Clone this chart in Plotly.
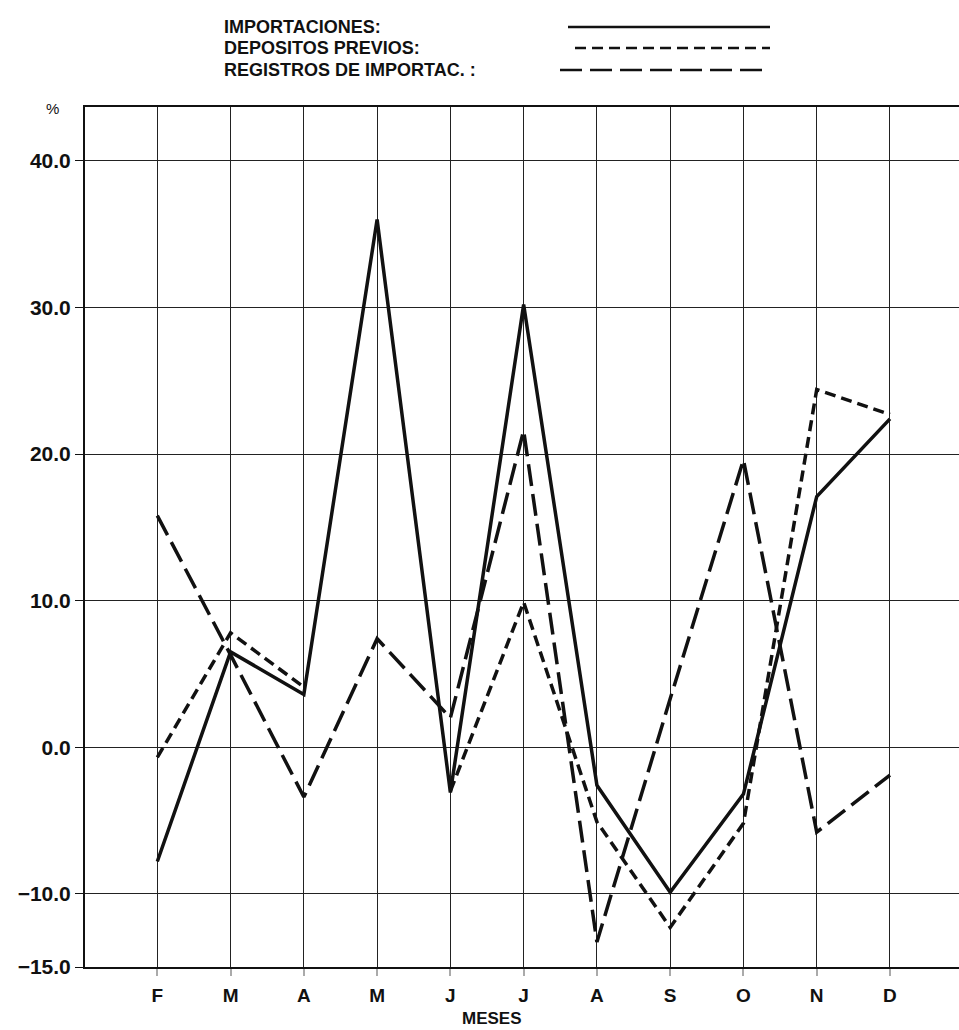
import plotly.graph_objects as go

MONTHS = ["F", "M", "A", "M", "J", "J", "A", "S", "O", "N", "D"]
IMPORTACIONES = [-7.8, 6.5, 3.6, 36.0, -3.1, 30.2, -2.6, -9.9, -3.2, 17.1, 22.4]
DEPOSITOS = [-0.7, 7.8, 4.1, None, -3.0, 9.9, -5.1, -12.3, -5.2, 24.4, 22.7]
REGISTROS = [15.8, 6.3, -3.4, 7.4, 2.0, 21.6, -13.3, 3.3, 19.6, -5.8, -1.9]
Y_TICKS = [40, 30, 20, 10, 0, -10, -15]
Y_TICKTEXT = ["40.0", "30.0", "20.0", "10.0", "0.0", "\u221210.0", "\u221215.0"]

LEGEND = [("IMPORTACIONES:", "solid"),
          ("DEPOSITOS PREVIOS:", "11px,6px"),
          ("REGISTROS DE IMPORTAC. :", "22px,8px")]

W, H = 959, 1030
L, R, T, B = 85, 0, 107, 63
PW, PH = W - L - R, H - T - B


def px(x):
    return (x - L) / PW


def py(y):
    return (H - B - y) / PH


FONT = "Liberation Sans, Arial, sans-serif"
x = list(range(len(MONTHS)))

fig = go.Figure()
for (label, dash), vals in zip(LEGEND, [IMPORTACIONES, DEPOSITOS, REGISTROS]):
    fig.add_trace(go.Scatter(x=x, y=vals, mode="lines", name=label,
                             line=dict(color="#111111", width=3.5, dash=dash),
                             connectgaps=False, showlegend=False, hoverinfo="skip"))

fig.update_layout(
    width=W, height=H,
    margin=dict(l=L, r=R, t=T, b=B),
    paper_bgcolor="white", plot_bgcolor="white",
    font=dict(family=FONT, size=16, color="#111111"),
    xaxis=dict(range=[-0.987, 10.942], tickvals=x, ticktext=MONTHS,
               showgrid=True, gridcolor="#222222", gridwidth=1,
               zeroline=False, showline=True, linecolor="#111111", linewidth=2,
               mirror=True,
               ticks="outside", ticklen=7, tickcolor="#aaaaaa", tickwidth=2,
               ticklabelstandoff=3,
               tickfont=dict(family=FONT, size=19, color="#111111", weight="bold")),
    yaxis=dict(range=[-15, 43.68], tickvals=Y_TICKS, ticktext=Y_TICKTEXT,
               showgrid=True, gridcolor="#222222", gridwidth=1,
               zeroline=False, showline=True, linecolor="#111111", linewidth=2,
               mirror=False,
               ticks="outside", ticklen=8, tickcolor="#111111", tickwidth=1,
               ticklabelstandoff=0,
               tickfont=dict(family=FONT, size=21, color="#111111", weight="bold")),
)

fig.add_annotation(text="MESES", x=px(492), y=py(1018), xref="paper", yref="paper",
                   xanchor="center", yanchor="middle", showarrow=False,
                   font=dict(family=FONT, size=17, color="#111111", weight="bold"))

fig.add_annotation(text="%", x=px(52), y=py(108), xref="paper", yref="paper",
                   xanchor="center", yanchor="middle", showarrow=False,
                   font=dict(family=FONT, size=15, color="#111111"))

leg_y = [27, 48, 70]
leg_x0 = [568, 575, 560]
for (label, dash), yy, x0 in zip(LEGEND, leg_y, leg_x0):
    fig.add_annotation(text=label, x=px(222), y=py(yy), xref="paper", yref="paper",
                       xanchor="left", yanchor="middle", showarrow=False,
                       font=dict(family=FONT, size=18, color="#111111", weight="bold"))
    fig.add_shape(type="line", xref="paper", yref="paper",
                  x0=px(x0), x1=px(770), y0=py(yy), y1=py(yy),
                  line=dict(color="#111111", width=2.5, dash=dash))

fig.write_html("out.html", config={"displayModeBar": False},
               post_script="document.body.style.margin='0';document.body.style.overflow='hidden';")
